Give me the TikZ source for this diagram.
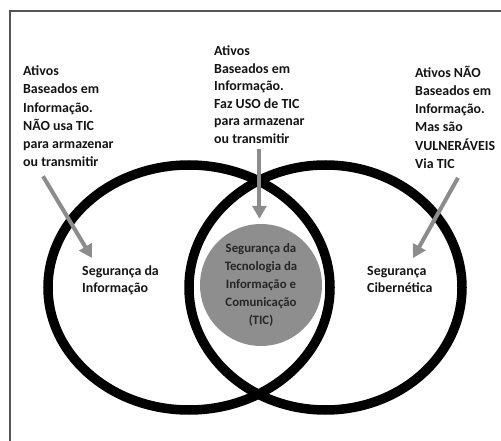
\documentclass[tikz,border=0pt]{standalone}
\usepackage{fontspec}
\setmainfont{Carlito}
\usetikzlibrary{arrows.meta,calc,shapes.geometric}
\definecolor{arrowgray}{HTML}{8C8C8C}
\definecolor{discgray}{HTML}{8E8E8E}
\definecolor{inkblack}{HTML}{141414}
\definecolor{disctext}{HTML}{262626}
\definecolor{framegray}{HTML}{555555}

\begin{document}
\begin{tikzpicture}[x=1pt,y=-1pt,
    every node/.style={font=\fontsize{13.9}{18.3}\selectfont\bfseries,text=inkblack,inner sep=0pt},
    note/.style={align=left,anchor=north west},
    ring/.style={draw=black,line width=9.5pt,ellipse,minimum height=245pt},
    pointer/.style={draw=arrowgray,line width=4pt,-{Triangle[width=14pt,length=13pt]}}]
    \useasboundingbox (0,0) rectangle (501,441);
    % frame (only top and left edges show)
    \draw[framegray,line width=1.5pt] (10,441) -- (10,11) -- (501,11);
    % shared area: ICT security
    \node[circle,fill=discgray,minimum size=122pt,align=center,text=disctext,
      font=\fontsize{12.8}{17.8}\selectfont\bfseries] (tic) at (261,285)
      {Segurança da\\Tecnologia da\\Informação e\\Comunicação\\(TIC)};
    % the two sets
    \node[ring,minimum width=282pt] (infoset) at (189,287.5) {};
    \node[ring,minimum width=273pt] (cyberset) at (325.5,287.5) {};
    % set labels
    \node[note,font=\fontsize{13.9}{17}\selectfont\bfseries] (infolabel) at (82,266)
      {Segurança da\\Informação};
    \node[note,font=\fontsize{13.9}{17}\selectfont\bfseries] (cyberlabel) at (367,266)
      {Segurança\\Cibernética};
    % notes above
    \node[note] (leftnote) at (23,65.5)
      {Ativos\\Baseados em\\Informação.\\NÃO usa TIC\\para armazenar\\ou transmitir};
    \node[note,font=\fontsize{13.9}{17.6}\selectfont\bfseries] (midnote) at (214,45.5)
      {Ativos\\Baseados em\\Informação.\\Faz USO de TIC\\para armazenar\\ou transmitir};
    \node[note] (rightnote) at (415,65.5)
      {Ativos NÃO\\Baseados em\\Informação.\\Mas são\\VULNERÁVEIS\\Via TIC};
    % arrow ends
    \coordinate (infotip) at ($(infolabel.north west)+(10,-8)$);
    \coordinate (cybertip) at ($(cyberlabel.north west)+(46,-8)$);
    % pointers
    \draw[pointer] ($(leftnote.south west)+(20,9)$) -- (infotip);
    \draw[pointer] ([yshift=-5pt]midnote.south) -- ([yshift=5pt]midnote.south |- tic.north);
    \draw[pointer] ($(rightnote.south west)+(43,9)$) -- (cybertip);
\end{tikzpicture}
\end{document}
